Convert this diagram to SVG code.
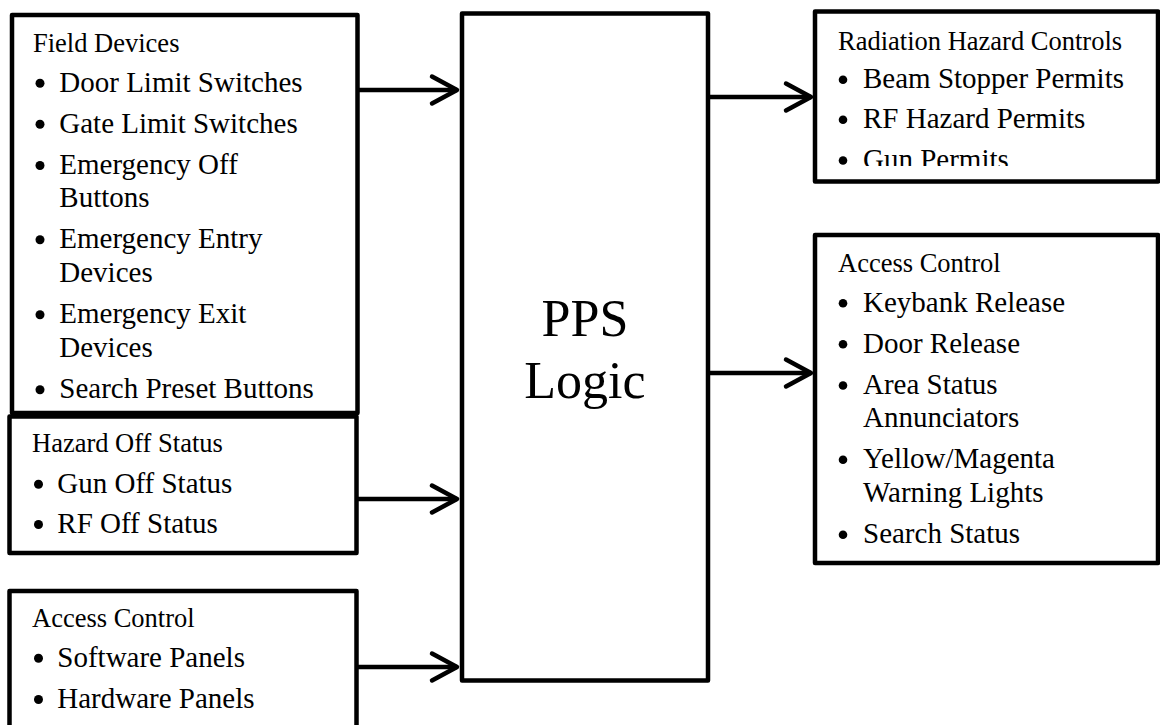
<svg xmlns="http://www.w3.org/2000/svg" width="1160" height="725" viewBox="0 0 1160 725">
<style>
.box{fill:#fff;stroke:#000;stroke-width:4.5;stroke-linejoin:round}
.hd{font-family:"Liberation Serif","Times New Roman",serif;font-size:26.5px;fill:#000}
.it{font-family:"Liberation Serif","Times New Roman",serif;font-size:29px;fill:#000}
.big{font-family:"Liberation Serif","Times New Roman",serif;font-size:52px;fill:#000;text-anchor:middle}
.bl{fill:#000}
.con{fill:none;stroke:#000;stroke-width:4.5}
</style>
<defs>
<marker id="arr" markerUnits="userSpaceOnUse" markerWidth="40" markerHeight="40" viewBox="-32 -20 40 40" refX="0" refY="0" orient="auto" overflow="visible">
<path d="M-25,-13.5 L0,0 L-25,13.5" fill="none" stroke="#000" stroke-width="4.5" stroke-linecap="round" stroke-linejoin="round"/>
</marker>
<clipPath id="radclip"><rect x="815" y="11" width="343" height="155"/></clipPath>
</defs>
<rect width="1160" height="725" fill="#fff"/>

<g id="field-devices">
<rect class="box" x="12" y="15" width="345.5" height="398"/>
<text class="hd" x="33" y="52">Field Devices</text>
<circle class="bl" cx="40" cy="83.2" r="4.5"/><text class="it" x="59.3" y="91.7">Door Limit Switches</text>
<circle class="bl" cx="40" cy="124.2" r="4.5"/><text class="it" x="59.3" y="132.7">Gate Limit Switches</text>
<circle class="bl" cx="40" cy="165.5" r="4.5"/><text class="it" x="59.3" y="174">Emergency Off</text>
<text class="it" x="59.3" y="206.7">Buttons</text>
<circle class="bl" cx="40" cy="239.8" r="4.5"/><text class="it" x="59.3" y="248.3">Emergency Entry</text>
<text class="it" x="59.3" y="281.7">Devices</text>
<circle class="bl" cx="40" cy="314.8" r="4.5"/><text class="it" x="59.3" y="323.3">Emergency Exit</text>
<text class="it" x="59.3" y="356.7">Devices</text>
<circle class="bl" cx="40" cy="389.8" r="4.5"/><text class="it" x="59.3" y="398.3">Search Preset Buttons</text>
</g>

<g id="hazard-off-status">
<rect class="box" x="9.5" y="416.5" width="347" height="136.5"/>
<text class="hd" x="32" y="451.7">Hazard Off Status</text>
<circle class="bl" cx="38.5" cy="484.2" r="4.5"/><text class="it" x="57.3" y="492.7">Gun Off Status</text>
<circle class="bl" cx="38.5" cy="524.5" r="4.5"/><text class="it" x="57.3" y="533">RF Off Status</text>
</g>

<g id="access-control-in">
<rect class="box" x="9.5" y="591" width="347" height="200"/>
<text class="hd" x="32" y="626.7">Access Control</text>
<circle class="bl" cx="38.5" cy="658.2" r="4.5"/><text class="it" x="57.3" y="666.7">Software Panels</text>
<circle class="bl" cx="38.5" cy="699.5" r="4.5"/><text class="it" x="57.3" y="708">Hardware Panels</text>
</g>

<g id="pps-logic">
<rect class="box" x="462" y="13.5" width="246" height="667"/>
<text class="big" x="585" y="336">PPS</text>
<text class="big" x="585" y="398">Logic</text>
</g>

<g id="radiation-hazard-controls">
<rect class="box" x="815" y="11.5" width="343" height="170"/>
<text class="hd" x="838" y="50">Radiation Hazard Controls</text>
<circle class="bl" cx="843" cy="79.8" r="4.3"/><text class="it" x="863" y="88.3">Beam Stopper Permits</text>
<circle class="bl" cx="843" cy="119.8" r="4.3"/><text class="it" x="863" y="128.3">RF Hazard Permits</text>
<g clip-path="url(#radclip)">
<circle class="bl" cx="843" cy="160.5" r="4.3"/><text class="it" x="863" y="169">Gun Permits</text>
</g>
</g>

<g id="access-control-out">
<rect class="box" x="815" y="235" width="343" height="328"/>
<text class="hd" x="838" y="271.7">Access Control</text>
<circle class="bl" cx="843" cy="303.2" r="4.3"/><text class="it" x="863" y="311.7">Keybank Release</text>
<circle class="bl" cx="843" cy="344.2" r="4.3"/><text class="it" x="863" y="352.7">Door Release</text>
<circle class="bl" cx="843" cy="385.5" r="4.3"/><text class="it" x="863" y="394">Area Status</text>
<text class="it" x="863" y="427.3">Annunciators</text>
<circle class="bl" cx="843" cy="459.8" r="4.3"/><text class="it" x="863" y="468.3">Yellow/Magenta</text>
<text class="it" x="863" y="501.7">Warning Lights</text>
<circle class="bl" cx="843" cy="534.8" r="4.3"/><text class="it" x="863" y="543.3">Search Status</text>
</g>

<g id="connectors">
<line class="con" x1="358" y1="90" x2="457" y2="90" marker-end="url(#arr)"/>
<line class="con" x1="358" y1="499" x2="457" y2="499" marker-end="url(#arr)"/>
<line class="con" x1="358" y1="667" x2="457" y2="667" marker-end="url(#arr)"/>
<line class="con" x1="709" y1="97" x2="811" y2="97" marker-end="url(#arr)"/>
<line class="con" x1="709" y1="373" x2="811" y2="373" marker-end="url(#arr)"/>
</g>
</svg>
